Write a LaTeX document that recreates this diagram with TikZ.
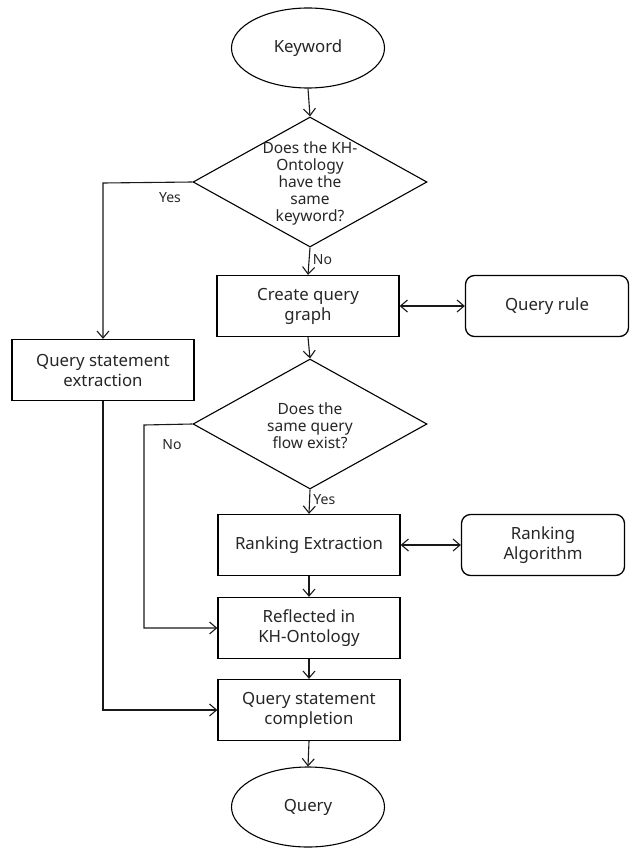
\documentclass[tikz,border=0pt]{standalone}
\usepackage{fontspec}
\setmainfont{Noto Sans}
\usetikzlibrary{shapes.geometric,arrows.meta}
\begin{document}
\begin{tikzpicture}[x=1pt,y=-1pt,
  every node/.style={font=\fontsize{16.8}{20}\selectfont, text=black!85},
  line/.style={line width=1.1pt, draw=black!90},
  arr/.style={line, -{Straight Barb[length=7pt,width=12pt,line width=1.1pt]}},
  darr/.style={line, {Straight Barb[length=7pt,width=12pt,line width=1.1pt]}-{Straight Barb[length=7pt,width=12pt,line width=1.1pt]}},
  term/.style={ellipse, draw, line width=1.1pt, minimum width=153pt, minimum height=80pt, inner sep=0pt},
  proc/.style={rectangle, draw, line width=1.3pt, minimum width=182pt, minimum height=61pt, inner sep=0pt, align=center},
  ext/.style={rectangle, rounded corners=9pt, draw, line width=1.3pt, minimum width=163pt, minimum height=61pt, inner sep=0pt, align=center},
  dec/.style={diamond, draw, line width=1.1pt, minimum width=234pt, minimum height=130pt, inner sep=0pt, align=center},
  dectext/.style={align=center, font=\fontsize{15.5}{17}\selectfont},
  lbl/.style={font=\fontsize{14}{16}\selectfont}
]
\useasboundingbox (0,0) rectangle (633,848);
\node[term] (kw) at (308,48) {Keyword};
\node[dec] (d1) at (310,182) {};
\node[dectext] (d1t) at (310,183) {Does the KH-\\Ontology\\have the\\same\\keyword?};
\node[proc] (cqg) at (308,306) {Create query\\graph};
\node[ext] (qr) at (547,306) {Query rule};
\node[proc] (qse) at (103,370) {Query statement\\extraction};
\node[dec] (d2) at (310,424) {};
\node[dectext] (d2t) at (310,426) {Does the\\same query\\flow exist?};
\node[proc] (re) at (309,545) {Ranking Extraction};
\node[ext] (ra) at (543,545) {Ranking\\Algorithm};
\node[proc] (rk) at (309,628) {Reflected in\\KH-Ontology};
\node[proc] (qsc) at (309,710) {Query statement\\completion};
\node[term] (q) at (308,807) {Query};

\coordinate (c1) at (103,183);
\coordinate (c2) at (144,425);
\coordinate (c3) at (144,628);
\coordinate (c4) at (103,710);

\draw[arr] (kw.south) -- (d1.north);
\draw[arr] (d1.south) -- node[lbl, right, pos=0.45] {No} (cqg.north);
\draw[arr] (d1.west) -- (c1) -- (qse.north);
\node[lbl] (yes1) at (170,198) {Yes};
\draw[darr] (cqg.east) -- (qr.west);
\draw[arr] (cqg.south) -- (d2.north);
\draw[arr] (d2.south) -- node[lbl, right, pos=0.4] {Yes} (re.north);
\draw[arr] (d2.west) -- (c2) -- (c3) -- (rk.west);
\node[lbl] (no2) at (172,445) {No};
\draw[darr] (re.east) -- (ra.west);
\draw[arr] (re.south) -- (rk.north);
\draw[arr] (rk.south) -- (qsc.north);
\draw[arr] (qse.south) -- (c4) -- (qsc.west);
\draw[arr] (qsc.south) -- (q.north);
\end{tikzpicture}
\end{document}
